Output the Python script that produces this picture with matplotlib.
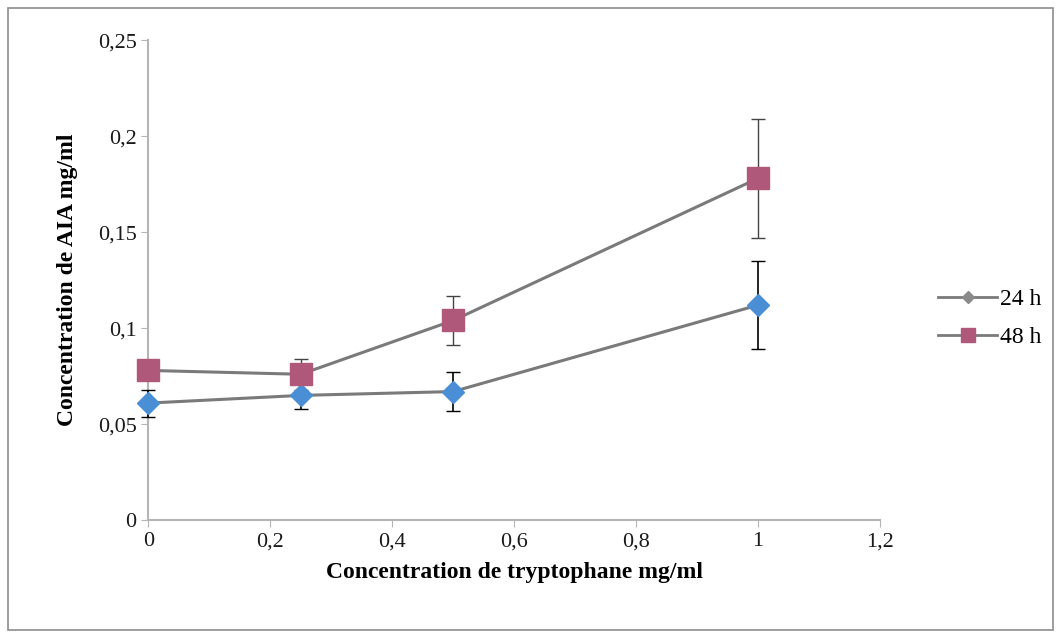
import numpy as np
import matplotlib
matplotlib.use('Agg')
import matplotlib.pyplot as plt
from matplotlib.ticker import FuncFormatter
from matplotlib.patches import Rectangle
from matplotlib.lines import Line2D

# data
trypto = [0, 0.25, 0.5, 1]
aia_24h = [0.061, 0.065, 0.067, 0.112]
err_24h = [0.007, 0.007, 0.010, 0.023]
aia_48h = [0.078, 0.076, 0.104, 0.178]
err_48h = [0.005, 0.008, 0.013, 0.031]

plt.rcParams['font.family'] = ['Liberation Serif', 'DejaVu Serif']

fig = plt.figure(figsize=(10.6, 6.36), dpi=100)
ax = fig.add_axes([0.14, 0.182, 0.69, 0.755])

# frame around the whole chart, like the excel chart area
fig.patches.append(Rectangle((0.008, 0.01), 0.985, 0.978, transform=fig.transFigure,
                             fill=False, edgecolor='#8c8c8c', linewidth=1.2))

blue = '#4a8fd6'
mauve = '#b0587a'
ax.errorbar(trypto, aia_24h, yerr=err_24h, color='#7a7a7a', linewidth=2.2,
            marker='D', markersize=11, markerfacecolor=blue, markeredgecolor=blue,
            ecolor='black', elinewidth=1.2, capsize=5, zorder=3, clip_on=False)
ax.errorbar(trypto, aia_48h, yerr=err_48h, color='#7a7a7a', linewidth=2.2,
            marker='s', markersize=16, markerfacecolor=mauve, markeredgecolor=mauve,
            ecolor='#444444', elinewidth=1.0, capsize=5, zorder=3, clip_on=False)

ax.set_xlim(0, 1.2)
ax.set_ylim(0, 0.25)
ax.set_xticks(np.arange(0, 1.21, 0.2))
ax.set_yticks(np.arange(0, 0.251, 0.05))

def comma(v, pos):
    s = ('%.2f' % v).rstrip('0').rstrip('.')
    return s.replace('.', ',')

ax.xaxis.set_major_formatter(FuncFormatter(comma))
ax.yaxis.set_major_formatter(FuncFormatter(comma))

for side in ['top', 'right']:
    ax.spines[side].set_visible(False)
ax.spines['left'].set_color('#b5b5b5')
ax.spines['bottom'].set_color('#b5b5b5')
ax.spines['left'].set_linewidth(1.5)
ax.spines['bottom'].set_linewidth(1.5)
ax.tick_params(axis='both', colors='#b5b5b5', labelcolor='#1a1a1a', labelsize=16,
               direction='out', length=5)

ax.set_xlabel('Concentration de tryptophane mg/ml', fontsize=17, fontweight='bold', labelpad=8)
ax.set_ylabel('Concentration de AIA mg/ml', fontsize=17, fontweight='bold', labelpad=14)

handles = [Line2D([], [], color='#7a7a7a', linewidth=2, marker='D', markersize=6,
                  markerfacecolor='#8a8a8a', markeredgecolor='#8a8a8a'),
           Line2D([], [], color='#7a7a7a', linewidth=2, marker='s', markersize=10,
                  markerfacecolor=mauve, markeredgecolor=mauve)]
ax.legend(handles, ['24 h', '48 h'], loc='center left', bbox_to_anchor=(1.08, 0.42),
          frameon=False, fontsize=17, handlelength=2.5, handletextpad=0.1,
          labelspacing=0.7, borderaxespad=0, borderpad=0)

fig.savefig('out.png', dpi=100)
